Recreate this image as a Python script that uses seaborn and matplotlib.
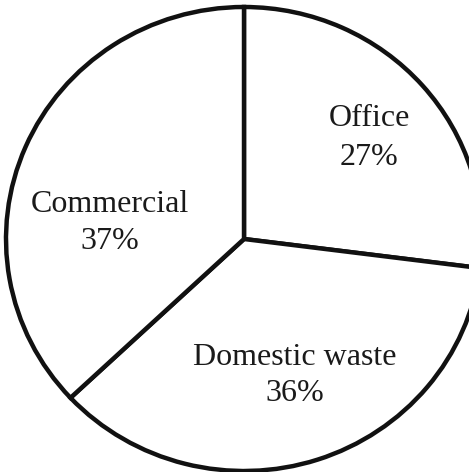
import matplotlib
matplotlib.use("Agg")
import matplotlib.pyplot as plt
import seaborn as sns

sns.set_theme(style="white")
plt.rcParams['font.family'] = ['Liberation Serif', 'DejaVu Serif']

categories = ["Office", "Domestic waste", "Commercial"]
values = [27, 36, 37]

fig = plt.figure(figsize=(4.69, 4.72), dpi=100)
ax = fig.add_axes([0, 0, 1, 1])

wedges, texts = ax.pie(values, startangle=90, counterclock=False,
                       colors=["white"] * 3,
                       wedgeprops=dict(edgecolor="#111111", linewidth=3.2))
ax.set_aspect('auto')

# pixel mapping: center (244, 239), radius x 238, radius y 232
cx, cy, rx, ry = 244, 239, 238, 232
W, H = 469, 472
ax.set_xlim(-cx / rx, (W - cx) / rx)
ax.set_ylim(-(H - cy) / ry, cy / ry)
ax.axis('off')

# (x centre, baseline of name, baseline of percent) in pixels
label_pos = [(369, 126, 165), (295, 365, 401), (110, 212, 249)]
for (px, b1, b2), cat, v in zip(label_pos, categories, values):
    x = (px - cx) / rx
    ax.text(x, (cy - b1) / ry, cat, ha="center", va="baseline", fontsize=23,
            color="#1a1a1a")
    ax.text(x, (cy - b2) / ry, f"{v}%", ha="center", va="baseline", fontsize=23,
            color="#1a1a1a")

fig.savefig("out.png", dpi=100)
